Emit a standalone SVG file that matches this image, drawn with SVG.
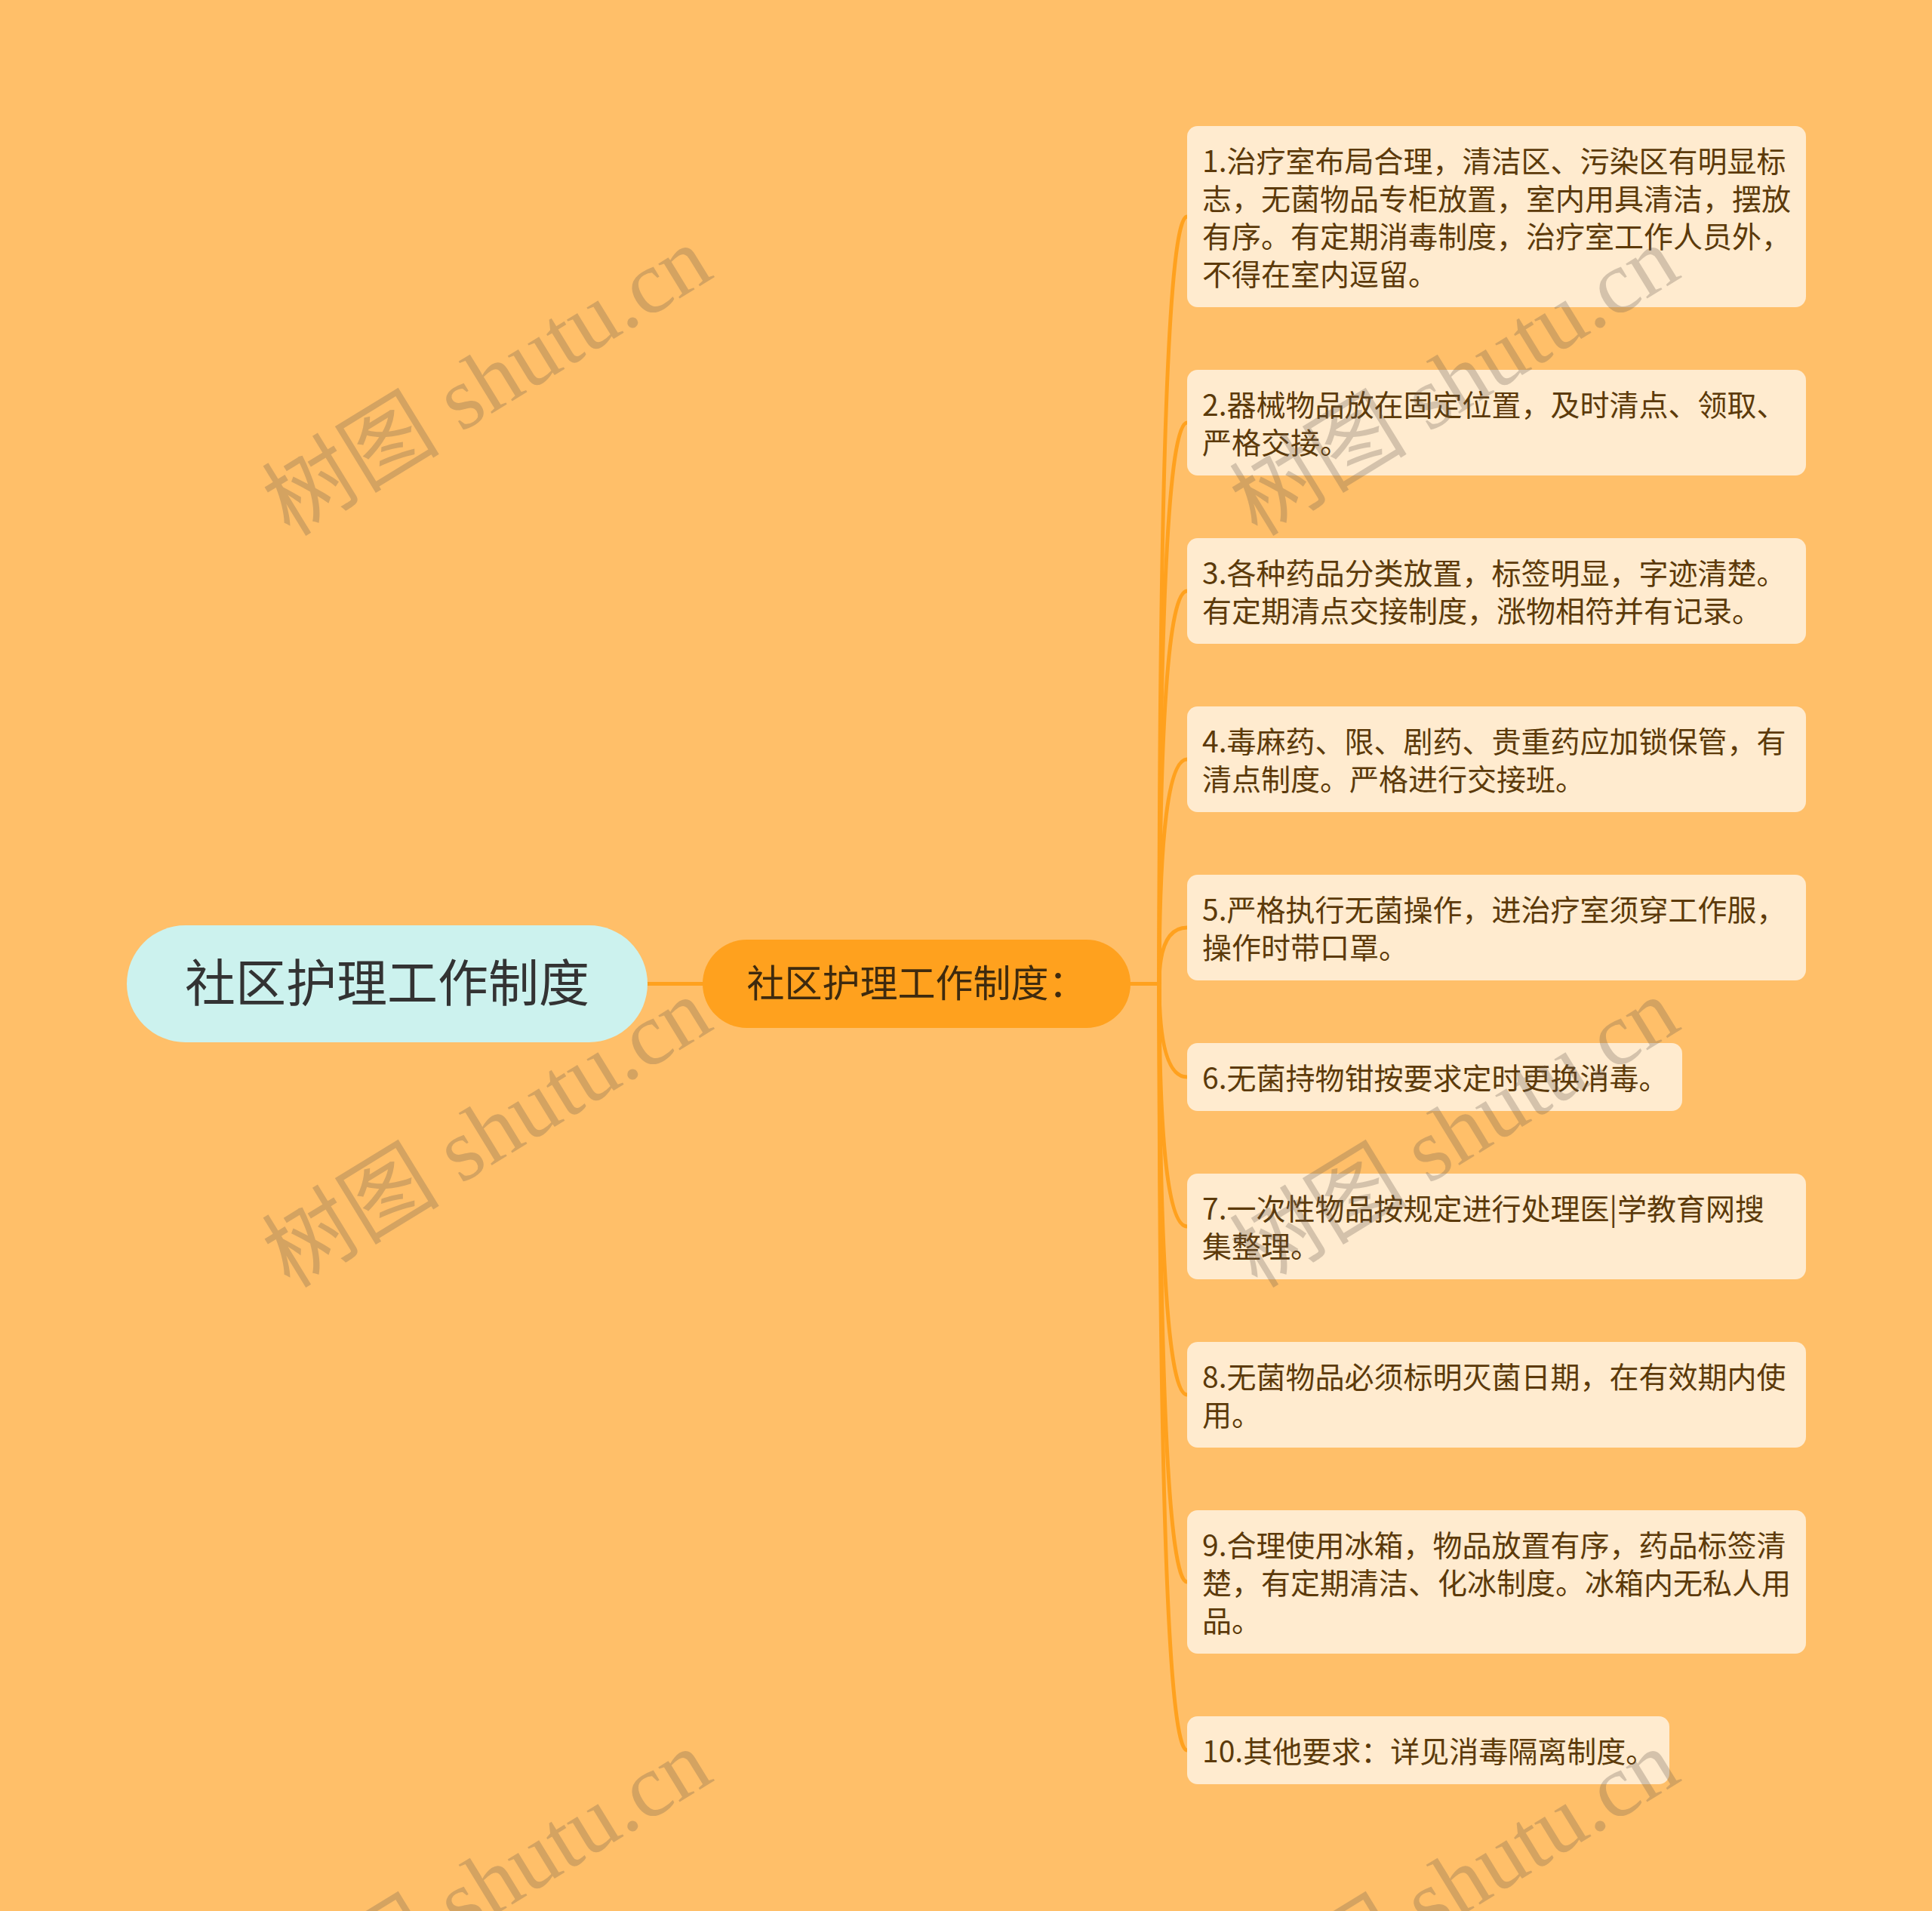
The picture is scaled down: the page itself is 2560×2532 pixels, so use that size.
<svg xmlns="http://www.w3.org/2000/svg" width="2560" height="2532" viewBox="0 0 2560 2532">
<style>
.bg{fill:#FFBF69}
.conn{fill:none;stroke:#FFA11E;stroke-width:5;stroke-linecap:round}
.leaf rect{fill:#FFEBCF}
.leaf text{font-family:"Noto Sans CJK SC","Noto Sans",sans-serif;font-size:39px;fill:#5C3A0A}
.root text{font-family:"Noto Sans CJK SC","Noto Sans",sans-serif;font-size:67px;fill:#333333}
.sub text{font-family:"Noto Sans CJK SC","Noto Sans",sans-serif;font-size:50px;fill:#3E2A0E}
.wm{font-family:"Liberation Serif","Noto Sans CJK SC",serif;font-size:118px;fill:rgb(100,90,80);fill-opacity:0.28}
</style>
<rect class="bg" x="0" y="0" width="2560" height="2532"/>

<g id="connectors">
<path class="conn" d="M858 1303.5 L931 1303.5"/>
<path class="conn" d="M1498 1303.5 L1536 1303.5"/>
<path class="conn" d="M1536 1303.5 Q1536 287 1573 287"/>
<path class="conn" d="M1536 1303.5 Q1536 560 1573 560"/>
<path class="conn" d="M1536 1303.5 Q1536 783 1573 783"/>
<path class="conn" d="M1536 1303.5 Q1536 1006 1573 1006"/>
<path class="conn" d="M1536 1303.5 Q1536 1229 1573 1229"/>
<path class="conn" d="M1536 1303.5 Q1536 1427 1573 1427"/>
<path class="conn" d="M1536 1303.5 Q1536 1625 1573 1625"/>
<path class="conn" d="M1536 1303.5 Q1536 1848 1573 1848"/>
<path class="conn" d="M1536 1303.5 Q1536 2096 1573 2096"/>
<path class="conn" d="M1536 1303.5 Q1536 2319 1573 2319"/>
</g>

<g id="root" class="root">
<rect x="168" y="1226" width="690" height="155" rx="77.5" fill="#CCF2EE"/>
<text x="513" y="1327" text-anchor="middle">社区护理工作制度</text>
</g>

<g id="sub" class="sub">
<rect x="931" y="1245" width="567" height="117" rx="58.5" fill="#FFA11E"/>
<text x="1214.5" y="1321" text-anchor="middle">社区护理工作制度：</text>
</g>

<g id="n1" class="leaf">
<rect x="1573" y="167" width="820" height="240" rx="14"/>
<text x="1593" y="228">1.治疗室布局合理，清洁区、污染区有明显标</text>
<text x="1593" y="278">志，无菌物品专柜放置，室内用具清洁，摆放</text>
<text x="1593" y="328">有序。有定期消毒制度，治疗室工作人员外，</text>
<text x="1593" y="378">不得在室内逗留。</text>
</g>
<g id="n2" class="leaf">
<rect x="1573" y="490" width="820" height="140" rx="14"/>
<text x="1593" y="551">2.器械物品放在固定位置，及时清点、领取、</text>
<text x="1593" y="601">严格交接。</text>
</g>
<g id="n3" class="leaf">
<rect x="1573" y="713" width="820" height="140" rx="14"/>
<text x="1593" y="774">3.各种药品分类放置，标签明显，字迹清楚。</text>
<text x="1593" y="824">有定期清点交接制度，涨物相符并有记录。</text>
</g>
<g id="n4" class="leaf">
<rect x="1573" y="936" width="820" height="140" rx="14"/>
<text x="1593" y="997">4.毒麻药、限、剧药、贵重药应加锁保管，有</text>
<text x="1593" y="1047">清点制度。严格进行交接班。</text>
</g>
<g id="n5" class="leaf">
<rect x="1573" y="1159" width="820" height="140" rx="14"/>
<text x="1593" y="1220">5.严格执行无菌操作，进治疗室须穿工作服，</text>
<text x="1593" y="1270">操作时带口罩。</text>
</g>
<g id="n6" class="leaf">
<rect x="1573" y="1382" width="656" height="90" rx="14"/>
<text x="1593" y="1443">6.无菌持物钳按要求定时更换消毒。</text>
</g>
<g id="n7" class="leaf">
<rect x="1573" y="1555" width="820" height="140" rx="14"/>
<text x="1593" y="1616">7.一次性物品按规定进行处理医|学教育网搜</text>
<text x="1593" y="1666">集整理。</text>
</g>
<g id="n8" class="leaf">
<rect x="1573" y="1778" width="820" height="140" rx="14"/>
<text x="1593" y="1839">8.无菌物品必须标明灭菌日期，在有效期内使</text>
<text x="1593" y="1889">用。</text>
</g>
<g id="n9" class="leaf">
<rect x="1573" y="2001" width="820" height="190" rx="14"/>
<text x="1593" y="2062">9.合理使用冰箱，物品放置有序，药品标签清</text>
<text x="1593" y="2112">楚，有定期清洁、化冰制度。冰箱内无私人用</text>
<text x="1593" y="2162">品。</text>
</g>
<g id="n10" class="leaf">
<rect x="1573" y="2274" width="639" height="90" rx="14"/>
<text x="1593" y="2335">10.其他要求：详见消毒隔离制度。</text>
</g>

<g id="watermarks">
<text class="wm" transform="translate(384 712) rotate(-31.5)">树图 shutu.cn</text>
<text class="wm" transform="translate(384 1708) rotate(-31.5)">树图 shutu.cn</text>
<text class="wm" transform="translate(384 2704) rotate(-31.5)">树图 shutu.cn</text>
<text class="wm" transform="translate(1666 712) rotate(-31.5)">树图 shutu.cn</text>
<text class="wm" transform="translate(1666 1708) rotate(-31.5)">树图 shutu.cn</text>
<text class="wm" transform="translate(1666 2704) rotate(-31.5)">树图 shutu.cn</text>
</g>
</svg>
